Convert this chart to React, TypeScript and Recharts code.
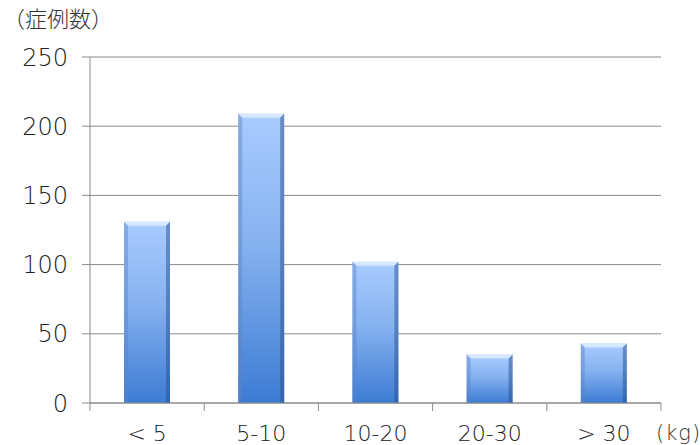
import { BarChart, Bar, XAxis, YAxis, CartesianGrid } from "recharts";

const categories = ["< 5", "5-10", "10-20", "20-30", "> 30"];
const caseCounts = [131, 209, 102, 35, 43];
const yTicks = [0, 50, 100, 150, 200, 250];

const chartData = categories.map((name, i) => ({ name, count: caseCounts[i] }));

const FONT = "'DejaVu Sans', 'Liberation Sans', 'Noto Sans CJK JP', sans-serif";
const CJK = "'Noto Sans CJK JP', sans-serif";
const GRID = "#8a8a8a";

// bar with the beveled look of the original
const BevelBar = (props: any) => {
  const { x, y, width, height } = props;
  if (!height || height <= 0) return null;
  const b = 4;
  return (
    <g>
      <rect x={x} y={y} width={width} height={height} fill="url(#barFill)" />
      <polygon
        points={`${x},${y} ${x + width},${y} ${x + width - b},${y + b} ${x + b},${y + b}`}
        fill="#dcebff"
        opacity={0.9}
      />
      <polygon
        points={`${x},${y} ${x + b},${y + b} ${x + b},${y + height} ${x},${y + height}`}
        fill="#5a86c4"
        opacity={0.45}
      />
      <polygon
        points={`${x + width},${y} ${x + width - b},${y + b} ${x + width - b},${y + height} ${x + width},${y + height}`}
        fill="#27508c"
        opacity={0.5}
      />
    </g>
  );
};

const XTick = (props: any) => {
  const { x, y, payload, index, visibleTicksCount } = props;
  const half = payload.offset || 57;
  return (
    <g>
      <line x1={x - half} y1={y - 8} x2={x - half} y2={y} stroke={GRID} />
      {index === visibleTicksCount - 1 && (
        <line x1={x + half} y1={y - 8} x2={x + half} y2={y} stroke={GRID} />
      )}
      <text
        x={x}
        y={y + 30}
        textAnchor="middle"
        fontSize={22}
        fontWeight={200}
        fill="#222"
        fontFamily={FONT}
      >
        {payload.value}
      </text>
    </g>
  );
};

export default function App() {
  return (
    <div style={{ position: "absolute", left: 0, top: 0, width: 700, height: 445, background: "#fff" }}>
      <BarChart
        width={700}
        height={445}
        data={chartData}
        margin={{ top: 57, right: 39, left: 0, bottom: 0 }}
        barSize={46}
      >
        <defs>
          <linearGradient id="barFill" x1="0" y1="0" x2="0" y2="1">
            <stop offset="0%" stopColor="#a9cbff" />
            <stop offset="45%" stopColor="#86b2f0" />
            <stop offset="100%" stopColor="#3d7bd3" />
          </linearGradient>
        </defs>
        <CartesianGrid vertical={false} stroke={GRID} strokeWidth={1} />
        <XAxis
          dataKey="name"
          axisLine={{ stroke: GRID }}
          tickLine={false}
          tick={<XTick />}
          height={42}
          interval={0}
        />
        <YAxis
          domain={[0, 250]}
          ticks={yTicks}
          width={90}
          axisLine={{ stroke: GRID }}
          tickLine={{ stroke: GRID }}
          tickSize={8}
          tickMargin={14}
          tick={{ fontSize: 24, fontWeight: 200, fill: "#222", fontFamily: FONT }}
        />
        <Bar dataKey="count" shape={<BevelBar />} isAnimationActive={false} />
        <text x={3} y={27} fontSize={22} fill="#333" fontFamily={CJK} fontWeight={300}>
          （症例数）
        </text>
        <text x={656} y={440} fontSize={21} fill="#333" fontFamily={FONT} fontWeight={200} letterSpacing={1}>
          (kg)
        </text>
      </BarChart>
    </div>
  );
}
